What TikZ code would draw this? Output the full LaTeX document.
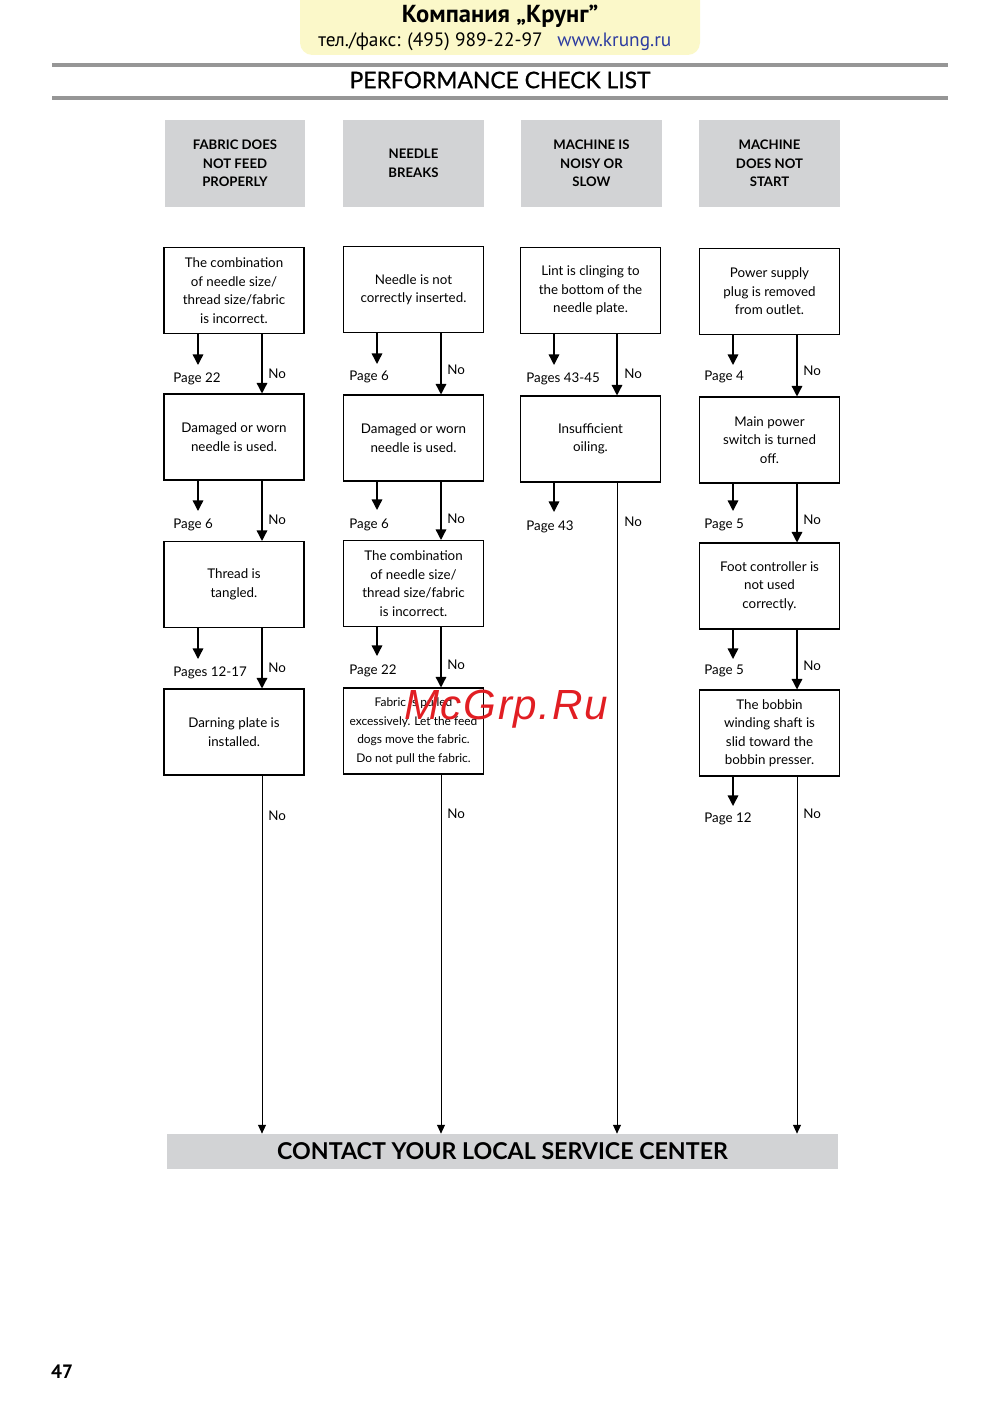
\documentclass[tikz,border=0pt]{standalone}
\usepackage{fontspec}
\setmainfont{Lato}
\newfontfamily\hdrfont{PT Sans}
\newfontfamily\titlefont[FakeBold=0.8]{Lato}
\newfontfamily\wmfont[LetterSpace=4]{Liberation Sans}
\usetikzlibrary{arrows.meta,positioning}
\definecolor{hdryellow}{RGB}{251,248,201}
\definecolor{headgray}{RGB}{210,211,213}
\definecolor{rulegray}{RGB}{150,150,150}
\definecolor{linkblue}{RGB}{45,60,160}
\definecolor{wmred}{RGB}{225,30,35}

\tikzset{
  headbox/.style={fill=headgray, minimum width=2.82cm, minimum height=1.74cm, align=center, inner sep=0pt,
    font=\bfseries\fontsize{7.5}{10.5}\selectfont},
  checkbox/.style={draw, line width=0.6pt, minimum width=2.8cm, minimum height=1.72cm, align=center, inner sep=0pt,
    font=\fontsize{7.6}{10.5}\selectfont},
  pagearr/.style={-{Triangle[length=6pt,width=6pt]}, line width=0.8pt},
  longarr/.style={-{Triangle[length=5pt,width=4.5pt]}, line width=0.5pt},
  lbl/.style={anchor=base west, inner sep=0pt, font=\fontsize{7.6}{10}\selectfont},
}

\begin{document}
\begin{tikzpicture}[x=0.02cm,y=-0.02cm]
    \useasboundingbox (0,0) rectangle (1000,1415);
    % header
    \fill[hdryellow, rounded corners=7pt] (300,-20) rectangle (700,55);
    \node[font=\hdrfont\bfseries\fontsize{14}{16}\selectfont, anchor=base] (firm) at (500,23) {Компания „Крунг”};
    \node[font=\hdrfont\fontsize{11}{13}\selectfont, anchor=base east, inner sep=0pt] (phone) at (543,47) {тел./факс: (495) 989-22-97};
    \node[font=\hdrfont\fontsize{11}{13}\selectfont, anchor=base west, inner sep=0pt, text=linkblue] (web) at (557,47) {www.krung.ru};
    \draw[rulegray, line width=1.8pt] (52,65) -- (948,65);
    \draw[rulegray, line width=1.8pt] (52,98) -- (948,98);
    \node[font=\titlefont\fontsize{13}{15}\selectfont] (title) at (500,80) {PERFORMANCE CHECK LIST};

    % column heads
    \node[headbox] (h1) at (235,163.5) {FABRIC DOES\\NOT FEED\\PROPERLY};
    \node[headbox] (h2) at (413.5,163.5) {NEEDLE\\BREAKS};
    \node[headbox] (h3) at (591.5,163.5) {MACHINE IS\\NOISY OR\\SLOW};
    \node[headbox] (h4) at (769.5,163.5) {MACHINE\\DOES NOT\\START};

    % checks
    \node[checkbox] (a1) at (234,290.5) {The combination\\of needle size/\\thread size/fabric\\is incorrect.};
    \node[checkbox] (a2) at (234,437) {Damaged or worn\\needle is used.};
    \node[checkbox] (a3) at (234,584.5) {Thread is\\tangled.};
    \node[checkbox] (a4) at (234,732) {Darning plate is\\installed.};

    \node[checkbox] (b1) at (413.5,289.5) {Needle is not\\correctly inserted.};
    \node[checkbox] (b2) at (413.5,438) {Damaged or worn\\needle is used.};
    \node[checkbox] (b3) at (413.5,583.5) {The combination\\of needle size/\\thread size/fabric\\is incorrect.};
    \node[checkbox, font=\fontsize{6.8}{10.5}\selectfont] (b4) at (413.5,731) {Fabric is pulled\\excessively. Let the feed\\dogs move the fabric.\\Do not pull the fabric.};

    \node[checkbox] (c1) at (590.5,290.5) {Lint is clinging to\\the bottom of the\\needle plate.};
    \node[checkbox] (c2) at (590.5,439) {Insufficient\\oiling.};

    \node[checkbox] (d1) at (769.5,291.5) {Power supply\\plug is removed\\from outlet.};
    \node[checkbox] (d2) at (769.5,440) {Main power\\switch is turned\\off.};
    \node[checkbox] (d3) at (769.5,586) {Foot controller is\\not used\\correctly.};
    \node[checkbox] (d4) at (769.5,733) {The bobbin\\winding shaft is\\slid toward the\\bobbin presser.};

    \node[fill=headgray, minimum width=13.42cm, minimum height=0.7cm, inner sep=0pt,
      font=\bfseries\fontsize{13.2}{15}\selectfont] (bar) at (502.5,1151.5) {CONTACT YOUR LOCAL SERVICE CENTER};

    % "No" lines
    \coordinate (na) at (262,0);
    \coordinate (nb) at (441,0);
    \coordinate (nc) at (617,0);
    \coordinate (nd) at (797,0);
    \draw[pagearr] (a1.south -| na) -- (a2.north -| na);
    \draw[pagearr] (a2.south -| na) -- (a3.north -| na);
    \draw[pagearr] (a3.south -| na) -- (a4.north -| na);
    \draw[longarr] (a4.south -| na) -- (bar.north -| na);
    \draw[pagearr] (b1.south -| nb) -- (b2.north -| nb);
    \draw[pagearr] (b2.south -| nb) -- (b3.north -| nb);
    \draw[pagearr] (b3.south -| nb) -- (b4.north -| nb);
    \draw[longarr] (b4.south -| nb) -- (bar.north -| nb);
    \draw[pagearr] (c1.south -| nc) -- (c2.north -| nc);
    \draw[longarr] (c2.south -| nc) -- (bar.north -| nc);
    \draw[pagearr] (d1.south -| nd) -- (d2.north -| nd);
    \draw[pagearr] (d2.south -| nd) -- (d3.north -| nd);
    \draw[pagearr] (d3.south -| nd) -- (d4.north -| nd);
    \draw[longarr] (d4.south -| nd) -- (bar.north -| nd);
    \node[lbl] (na1) at (268,378) {No};
    \node[lbl] (na2) at (268,524) {No};
    \node[lbl] (na3) at (268,672) {No};
    \node[lbl] (na4) at (268,820) {No};
    \node[lbl] (nb1) at (447,375) {No};
    \node[lbl] (nb2) at (447,523) {No};
    \node[lbl] (nb3) at (447,669) {No};
    \node[lbl] (nb4) at (447,818) {No};
    \node[lbl] (nc1) at (624,378) {No};
    \node[lbl] (nc2) at (624,526) {No};
    \node[lbl] (nd1) at (803,376) {No};
    \node[lbl] (nd2) at (803,524) {No};
    \node[lbl] (nd3) at (803,670) {No};
    \node[lbl] (nd4) at (803,818) {No};

    % page references
    \coordinate (pa1) at (198,365);
    \coordinate (pa2) at (198,511);
    \coordinate (pa3) at (198,659);
    \coordinate (pb1) at (377,364);
    \coordinate (pb2) at (377,510);
    \coordinate (pb3) at (377,656);
    \coordinate (pc1) at (554,365);
    \coordinate (pc2) at (554,512);
    \coordinate (pd1) at (733,365);
    \coordinate (pd2) at (733,511);
    \coordinate (pd3) at (733,659);
    \coordinate (pd4) at (733,806);
    \draw[pagearr] (a1.south -| pa1) -- (pa1);
    \draw[pagearr] (a2.south -| pa2) -- (pa2);
    \draw[pagearr] (a3.south -| pa3) -- (pa3);
    \draw[pagearr] (b1.south -| pb1) -- (pb1);
    \draw[pagearr] (b2.south -| pb2) -- (pb2);
    \draw[pagearr] (b3.south -| pb3) -- (pb3);
    \draw[pagearr] (c1.south -| pc1) -- (pc1);
    \draw[pagearr] (c2.south -| pc2) -- (pc2);
    \draw[pagearr] (d1.south -| pd1) -- (pd1);
    \draw[pagearr] (d2.south -| pd2) -- (pd2);
    \draw[pagearr] (d3.south -| pd3) -- (pd3);
    \draw[pagearr] (d4.south -| pd4) -- (pd4);
    \node[lbl] (ta1) at (173,382) {Page 22};
    \node[lbl] (ta2) at (173,528) {Page 6};
    \node[lbl] (ta3) at (173,676) {Pages 12-17};
    \node[lbl] (tb1) at (349,380) {Page 6};
    \node[lbl] (tb2) at (349,528) {Page 6};
    \node[lbl] (tb3) at (349,674) {Page 22};
    \node[lbl] (tc1) at (526,382) {Pages 43-45};
    \node[lbl] (tc2) at (526,530) {Page 43};
    \node[lbl] (td1) at (704,380) {Page 4};
    \node[lbl] (td2) at (704,528) {Page 5};
    \node[lbl] (td3) at (704,674) {Page 5};
    \node[lbl] (td4) at (704,822) {Page 12};

    % watermark and page number
    \node[text=wmred, font=\wmfont\itshape\fontsize{24}{24}\selectfont] (wmark) at (506,709) {McGrp.Ru};
    \node[font=\hdrfont\bfseries\fontsize{11}{13}\selectfont] (pageno) at (62,1372) {47};
\end{tikzpicture}
\end{document}
